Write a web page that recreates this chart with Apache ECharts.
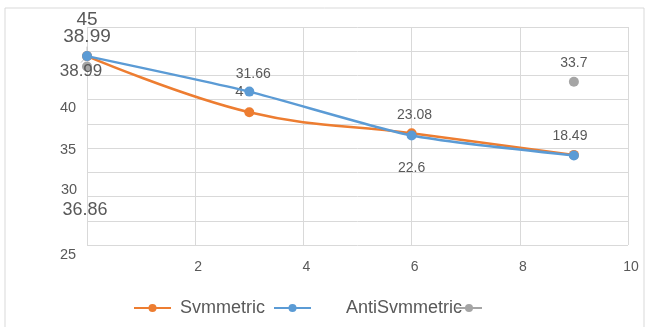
<!DOCTYPE html>
<html>
<head>
<meta charset="utf-8">
<script src="https://cdn.jsdelivr.net/npm/echarts@6/dist/echarts.min.js"></script>
<style>
html,body{margin:0;padding:0;background:#fff;}
#chart{width:649px;height:327px;}
</style>
</head>
<body>
<div id="chart"></div>
<script>
// ---- data ----
const xValues = [0, 3, 6, 9];
const symmetric = [38.99, 27.4, 23.08, 18.6];
const antiSymmetric = [38.99, 31.66, 22.6, 18.49];
const thirdSeries = [36.86, null, null, 33.7];
const symmetricLabels = ['38.99', '4', '23.08', ''];
const antiSymmetricLabels = ['38.99', '31.66', '22.6', '18.49'];
const thirdLabels = ['36.86', '', '', '33.7'];
const seriesNames = ['Svmmetric', 'AntiSvmmetric', ' '];
const xTickValues = [2, 4, 6, 8, 10];
const yTickTexts = ['45', '40', '35', '30', '25'];

// ---- styling / layout ----
const FONT = '"Liberation Sans", Arial, sans-serif';
const TXT = '#595959';
const colors = ['#ED7D31', '#5B9BD5', '#A5A5A5'];
// label offsets (px) relative to point centre
const symOffsets = [[-6, 15], [-10, -20], [3, -18], [0, 0]];
const antiOffsets = [[0, -19], [4, -17], [0, 33], [-4, -19]];
const thirdOffsets = [[-2, 144], [0, 0], [0, 0], [0, -19]];
const symLeaders = [true, false, false, false];
const antiLeaders = [true, false, true, false];
const thirdLeaders = [false, false, false, false];
const symSizes = [17, 15, 14, 14];
const antiSizes = [19, 14, 14, 14];
const thirdSizes = [18, 14, 14, 14];
// y tick text positions (scrambled, as in the picture)
const yTickPos = [[87, 20, 19], [68, 108, 14.5], [68, 150, 14.5], [69, 190, 14.5], [68, 255, 14.5]];

function buildData(vals, labels, offsets, sizes, leaders) {
  return xValues.map((x, i) => ({
    value: [x, vals[i]],
    label: {
      show: labels[i] !== '',
      formatter: labels[i],
      position: 'inside',
      fontSize: sizes[i]
    },
    labelLine: {show: leaders[i], lineStyle: {color: '#BFBFBF', width: 1}}
  }));
}
const allOffsets = [symOffsets, antiOffsets, thirdOffsets];
function layoutFn(params) {
  const o = allOffsets[params.seriesIndex][params.dataIndex];
  return {dx: o[0], dy: o[1]};
}

const chart = echarts.init(document.getElementById('chart'), null, {renderer: 'canvas'});

const labelBase = {color: TXT, fontFamily: FONT, fontSize: 14};

const option = {
  animation: false,
  textStyle: {fontFamily: FONT, color: TXT},
  grid: {left: 87, right: 21, top: 27, bottom: 82, containLabel: false},
  xAxis: {
    type: 'value', min: 0, max: 10, interval: 2,
    axisLine: {show: false}, axisTick: {show: false},
    splitLine: {show: true, lineStyle: {color: '#D9D9D9', width: 1}},
    axisLabel: {
      color: TXT, fontFamily: FONT, fontSize: 14, margin: 15,
      padding: [0, 0, 0, 6],
      formatter: v => xTickValues.indexOf(v) >= 0 ? String(v) : ''
    }
  },
  yAxis: {
    type: 'value', min: 0, max: 45, interval: 5,
    axisLine: {show: false}, axisTick: {show: false},
    splitLine: {show: true, lineStyle: {color: '#D9D9D9', width: 1}},
    axisLabel: {show: false}
  },
  legend: [
    {data: [seriesNames[0]], left: 128, top: 294, itemWidth: 37, itemHeight: 10, itemGap: 0,
     textStyle: {color: TXT, fontFamily: FONT, fontSize: 18, padding: [0, 0, 0, 4]}},
    {data: [seriesNames[1]], left: 268, top: 294, itemWidth: 37, itemHeight: 10, itemGap: 0,
     textStyle: {color: TXT, fontFamily: FONT, fontSize: 18, padding: [0, 0, 0, 30]}},
    {data: [seriesNames[2]], left: 450, top: 294, itemWidth: 26, itemHeight: 10, itemGap: 0,
     textStyle: {color: TXT, fontFamily: FONT, fontSize: 18}}
  ],
  graphic: [
    {type: 'rect', shape: {x: 5, y: 8, width: 639, height: 340}, silent: true,
     style: {fill: 'none', stroke: '#D9D9D9', lineWidth: 1}, z: -10}
  ].concat(yTickTexts.map((t, i) => ({
    type: 'text', x: yTickPos[i][0], y: yTickPos[i][1], silent: true,
    style: {text: t, fill: TXT, font: yTickPos[i][2] + 'px ' + FONT, align: 'center', verticalAlign: 'middle'}
  }))),
  series: [
    {
      name: seriesNames[0], type: 'line', smooth: 0.4, color: colors[0],
      symbol: 'circle', symbolSize: 10, lineStyle: {width: 2.5},
      label: labelBase, labelLayout: layoutFn, z: 3,
      data: buildData(symmetric, symmetricLabels, symOffsets, symSizes, symLeaders)
    },
    {
      name: seriesNames[1], type: 'line', smooth: 0.2, color: colors[1],
      symbol: 'circle', symbolSize: 10, lineStyle: {width: 2.5},
      label: labelBase, labelLayout: layoutFn, z: 4,
      data: buildData(antiSymmetric, antiSymmetricLabels, antiOffsets, antiSizes, antiLeaders)
    },
    {
      name: seriesNames[2], type: 'line', color: colors[2], connectNulls: false,
      symbol: 'circle', symbolSize: 10, lineStyle: {width: 2.5},
      label: labelBase, labelLayout: layoutFn, z: 2,
      data: buildData(thirdSeries, thirdLabels, thirdOffsets, thirdSizes, thirdLeaders)
    }
  ]
};
chart.setOption(option);
</script>
</body>
</html>
